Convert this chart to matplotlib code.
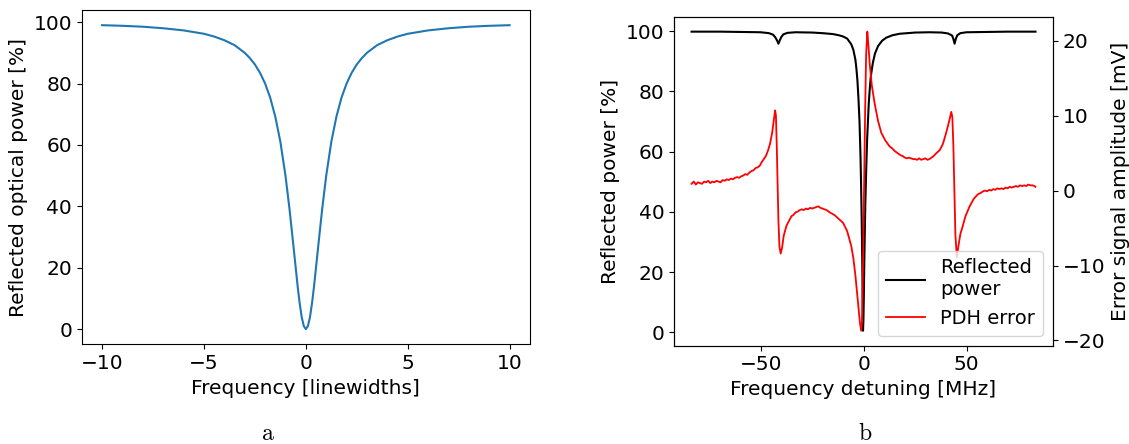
import numpy as np
import matplotlib.pyplot as plt

plt.rcParams['mathtext.fontset'] = 'cm'

# panel a: reflected power vs detuning in linewidths
lw_freq = [-10, -9, -8, -7, -6, -5, -4.5, -4, -3.5, -3, -2.75, -2.5, -2.25, -2,
           -1.75, -1.5, -1.25, -1, -0.8, -0.6, -0.4, -0.3, -0.2, -0.1, 0,
           0.1, 0.2, 0.3, 0.4, 0.6, 0.8, 1, 1.25, 1.5, 1.75, 2, 2.25, 2.5,
           2.75, 3, 3.5, 4, 4.5, 5, 6, 7, 8, 9, 10]
lw_power = [99.0, 98.8, 98.5, 98.0, 97.3, 96.2, 95.3, 94.1, 92.5, 90.0, 88.3,
            86.2, 83.5, 80.0, 75.4, 69.2, 61.0, 50.0, 39.0, 26.5, 13.8, 8.3,
            3.8, 1.0, 0.0,
            1.0, 3.8, 8.3, 13.8, 26.5, 39.0, 50.0, 61.0, 69.2, 75.4, 80.0,
            83.5, 86.2, 88.3, 90.0, 92.5, 94.1, 95.3, 96.2, 97.3, 98.0, 98.5,
            98.8, 99.0]

# panel b: measured reflected power [%]
refl_freq = [-83.6, -70, -60, -50, -46, -44, -43, -42, -41.4, -40.8, -40, -39,
             -37, -33, -25, -20, -15, -12, -10, -8, -6, -5, -4, -3.5, -3, -2.5,
             -2, -1.5, -1.2, -0.9, -0.6, -0.4, -0.3, -0.1, 0.1, 0.3, 0.5, 0.8,
             1.3, 1.7, 2.1, 2.5, 2.9, 3.5, 4.5, 5.5, 7, 9, 11, 14, 17.5, 25, 32,
             38, 41, 43, 43.6, 44.2, 44.8, 45.5, 47, 50, 60, 70, 83.5]
refl_power = [99.8, 99.8, 99.7, 99.6, 99.3, 98.8, 98.0, 96.8, 95.8, 96.8, 98.0,
              98.9, 99.4, 99.6, 99.5, 99.3, 99.0, 98.6, 98.2, 97.5, 95.6, 93.8,
              90.5, 87.5, 83.5, 77.5, 70.0, 58.0, 48.0, 36.0, 20.0, 8.0, 0.5,
              4.0, 12.0, 22.0, 30.0, 42.0, 55.0, 64.0, 70.0, 76.0, 80.0, 85.0,
              89.5, 92.5, 95.0, 96.8, 97.8, 98.6, 99.1, 99.5, 99.6, 99.5, 99.2,
              98.5, 97.4, 95.8, 97.4, 98.6, 99.3, 99.6, 99.7, 99.8, 99.8]

# panel b: PDH error signal [mV]
pdh_freq = [-83.6, -82.5, -81.5, -80.5, -79.5, -78.5, -77.5, -76.5, -75.5,
            -74.5, -73.5, -72.5, -71.5, -70.5, -69.5, -68.5, -67.5, -66.5,
            -65.5, -64.5, -63.5, -62.5, -61.5, -60.5, -59.5, -58.5, -57.5,
            -56.5, -55.5, -54.5, -53.5, -52.5, -51.5, -50.5, -49.5, -48.5,
            -47.5, -46.5, -45.5, -44.5, -43.7, -43.0, -42.6, -42.2, -41.8,
            -41.4, -40.9, -40.3, -39.6, -38.8, -37.5,
            -36, -35, -34.3, -33, -32, -31, -30, -29, -28, -27, -26, -25, -24,
            -23, -22, -21, -20, -19, -18, -16.5, -14, -12, -10, -8, -6, -5, -4,
            -3.5, -2.5, -1.8, -1.2, -0.8, -0.3, 0.2, 0.7, 1.2, 1.8, 2.3, 3, 4,
            5.3, 7, 8.6, 10.5, 12.6, 14, 15, 16, 17, 18, 19, 20, 21, 22, 23,
            24, 25,
            26, 27, 28, 29, 30, 31, 32, 33, 34, 35, 37, 38.5, 40,
            41.5, 42.6, 43.1, 43.6, 44.1, 44.6, 45.3, 46, 47, 48.2, 49.5, 51.5,
            53.5, 55.5, 57, 58,
            59, 60, 61, 62, 63, 64, 65, 66, 67, 68, 69, 70, 71, 72, 73, 74,
            75, 76, 77, 78, 79, 80, 81, 82, 83, 83.5]
pdh_err = [0.9, 1.2, 0.8, 1.1, 1.0, 0.9, 1.2, 1.1, 1.3, 1.0, 1.2, 1.1, 1.3,
           1.2, 1.1, 1.4, 1.3, 1.5, 1.4, 1.6, 1.5, 1.7, 1.8, 1.7, 1.9, 2.0,
           2.2, 2.1, 2.4, 2.6, 2.7, 3.0, 3.1, 3.3, 3.8, 4.2, 4.6, 5.3, 6.2,
           7.6, 9.2, 10.7, 10.0, 6.0, 1.0, -4.0, -7.5, -8.4, -7.6, -6.0, -4.7,
           -3.9, -3.4, -3.3, -2.9, -2.8, -2.6, -2.5, -2.6, -2.4, -2.5, -2.3,
           -2.4, -2.3, -2.2, -2.1, -2.3, -2.4, -2.5, -2.6, -2.9, -3.3, -3.8,
           -4.3, -5.4, -7.4, -9.0, -11.3, -12.7, -15.5, -17.6, -18.7, -17.5,
           -10.0, 0.0, 10.0, 18.0, 21.2, 19.5, 16.8, 14.0, 11.7, 9.3, 7.7, 6.7,
           5.9, 5.6, 5.3, 5.1, 4.9, 4.7, 4.6, 4.4, 4.3, 4.4, 4.3, 4.2, 4.2,
           4.1, 4.3, 4.1, 4.2, 4.3, 4.1, 4.2, 4.4, 4.6, 4.9, 5.4, 6.2, 7.6,
           9.2, 10.5, 9.8, 6.0, 0.0, -6.0, -8.9, -7.5, -5.8, -4.7, -3.4, -2.1,
           -1.1, -0.5, -0.3, -0.1,
           0.0, -0.1, 0.1, 0.0, 0.2, 0.1, 0.3, 0.2, 0.3, 0.2, 0.4, 0.3, 0.5,
           0.4, 0.5, 0.6, 0.5, 0.7, 0.6, 0.7, 0.6, 0.8, 0.7, 0.7, 0.6, 0.5]

FS = 14.5

fig = plt.figure(figsize=(11.29, 4.44), dpi=100)

# panel a
ax1 = fig.add_axes([0.0724, 0.2245, 0.397, 0.753])
ax1.plot(lw_freq, lw_power, color='#1f77b4', linewidth=1.5)
ax1.set_xticks([-10, -5, 0, 5, 10])
ax1.set_yticks([0, 20, 40, 60, 80, 100])
ax1.set_xlabel('Frequency [linewidths]', fontsize=FS)
ax1.set_ylabel('Reflected optical power [%]', fontsize=FS)
ax1.tick_params(labelsize=FS)

# panel b
ax2 = fig.add_axes([0.5973, 0.2214, 0.3351, 0.741])
ax3 = ax2.twinx()
l1, = ax2.plot(refl_freq, refl_power, color='black', linewidth=1.5,
               label='Reflected\npower')
l2, = ax3.plot(pdh_freq, pdh_err, color='red', linewidth=1.3,
               label='PDH error')
ax2.set_yticks([0, 20, 40, 60, 80, 100])
ax2.set_xticks([-50, 0, 50])
ax3.set_yticks([-20, -10, 0, 10, 20])
ax2.set_xlabel('Frequency detuning [MHz]', fontsize=FS)
ax2.set_ylabel('Reflected power [%]', fontsize=FS)
ax3.set_ylabel('Error signal amplitude [mV]', fontsize=FS)
ax2.tick_params(labelsize=FS)
ax3.tick_params(labelsize=FS)
ax3.legend(handles=[l1, l2], loc='lower right', fontsize=14)

# subfigure captions
fig.text(0.2375, 0.008, r'$\mathrm{a}$', ha='center', fontsize=17)
fig.text(0.766, 0.008, r'$\mathrm{b}$', ha='center', fontsize=17)

fig.savefig('out.png', dpi=100)
